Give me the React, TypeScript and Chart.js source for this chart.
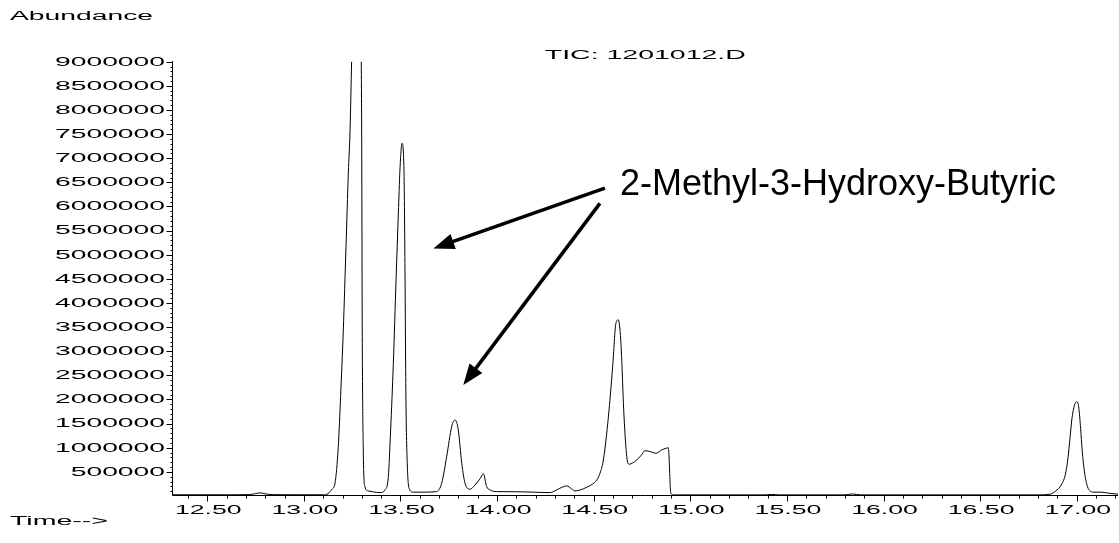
import React, { useEffect, useRef } from "react";
import { Chart, registerables } from "chart.js";

Chart.register(...registerables);

// ---- Data ----
const retentionTimes: number[] = [
  12.32, 12.6, 12.72, 12.75, 12.773, 12.8, 12.84, 13.0, 13.1, 13.125, 13.145, 13.161,
  13.178, 13.19, 13.204, 13.218, 13.23, 13.239, 13.247, 13.262, 13.275, 13.285, 13.295,
  13.299, 13.302, 13.307, 13.316, 13.333, 13.36, 13.394, 13.42, 13.437, 13.449, 13.463,
  13.477, 13.489, 13.497, 13.508, 13.518, 13.523, 13.528, 13.535, 13.546, 13.566, 13.62,
  13.687, 13.713, 13.739, 13.765, 13.782, 13.799, 13.817, 13.834, 13.86, 13.886, 13.912,
  13.929, 13.946, 13.963, 13.997, 14.1, 14.2, 14.274, 14.308, 14.335, 14.36, 14.385,
  14.403, 14.43, 14.464, 14.495, 14.516, 14.535, 14.55, 14.576, 14.598, 14.615, 14.627,
  14.64, 14.657, 14.671, 14.684, 14.7, 14.723, 14.745, 14.766, 14.792, 14.822, 14.852,
  14.875, 14.886, 14.889, 14.899, 14.912, 15.3, 15.38, 15.42, 15.46, 15.8, 15.84, 15.88,
  16.8, 16.862, 16.89, 16.92, 16.94, 16.955, 16.965, 16.975, 16.988, 17.0, 17.01, 17.02,
  17.028, 17.04, 17.055, 17.07, 17.085, 17.13, 17.165, 17.214,
];

const abundance: number[] = [
  25000, 25000, 30000, 50000, 65000, 45000, 27000, 25000, 25000, 50000, 140000, 264000,
  1020000, 2060000, 3440000, 5170000, 6690000, 7580000, 9000000, 11200000, 12000000, 11500000, 9800000,
  7600000, 3440000, 1020000, 195000, 106000, 85000, 70000, 126000, 402000, 1370000, 2750000,
  4480000, 5860000, 6750000, 7310000, 6750000, 4820000, 2060000, 679000, 141000, 79000, 80000,
  91000, 264000, 816000, 1440000, 1576000, 1370000, 679000, 264000, 141000, 230000, 360000,
  460000, 195000, 126000, 91000, 88000, 78000, 70000, 126000, 180000, 209000, 150000,
  105000, 125000, 182000, 250000, 333000, 500000, 748000, 1640000, 2680000, 3580000, 3650000,
  3230000, 1640000, 816000, 658000, 680000, 748000, 840000, 940000, 920000, 886000, 955000,
  990000, 1000000, 880000, 58000, 23000, 23000, 23000, 33000, 23000, 23000, 43000, 23000,
  23000, 37000, 100000, 230000, 430000, 800000, 1200000, 1600000, 1880000, 1955000, 1850000, 1400000,
  950000, 500000, 200000, 100000, 80000, 79000, 58000, 37000,
];

const xTickValues: number[] = [12.5, 13.0, 13.5, 14.0, 14.5, 15.0, 15.5, 16.0, 16.5, 17.0];
const xTickLabels: string[] = ["12.50", "13.00", "13.50", "14.00", "14.50", "15.00", "15.50", "16.00", "16.50", "17.00"];
const yTickValues: number[] = [
  500000, 1000000, 1500000, 2000000, 2500000, 3000000, 3500000, 4000000, 4500000,
  5000000, 5500000, 6000000, 6500000, 7000000, 7500000, 8000000, 8500000, 9000000,
];

const chartTitle = "TIC: 1201012.D";
const yAxisTitle = "Abundance";
const xAxisTitle = "Time-->";
const annotationText = "2-Methyl-3-Hydroxy-Butyric";
// arrows: [tailTime, tailAbundance, tipTime, tipAbundance]
const arrowUpper: number[] = [14.558, 6380000, 13.67, 5130000];
const arrowLower: number[] = [14.532, 6065000, 13.825, 2300000];
const annotationAnchor: number[] = [14.636, 6236000];

const X_MIN = 12.32;
const X_MAX = 17.214;
const Y_MIN = 0;
const Y_MAX = 9000000;

const SMALL_FONT = "12px 'Liberation Sans', Arial, sans-serif";
const BIG_FONT = "36px 'Liberation Sans', Arial, sans-serif";

function drawStretched(
  ctx: CanvasRenderingContext2D,
  text: string,
  x: number,
  y: number,
  targetWidthRef: number,
  refText: string,
  align: "left" | "right" | "center",
  baseline: CanvasTextBaseline
) {
  ctx.save();
  ctx.font = SMALL_FONT;
  const refW = ctx.measureText(refText).width || 1;
  const sx = targetWidthRef / refW;
  const w = ctx.measureText(text).width * sx;
  const x0 = align === "left" ? x : align === "right" ? x - w : x - w / 2;
  ctx.translate(x0, y);
  ctx.scale(sx, 1);
  ctx.textAlign = "left";
  ctx.textBaseline = baseline;
  ctx.fillStyle = "#000";
  ctx.fillText(text, 0, 0);
  ctx.restore();
}

function drawArrow(ctx: CanvasRenderingContext2D, x1: number, y1: number, x2: number, y2: number) {
  const dx = x2 - x1;
  const dy = y2 - y1;
  const len = Math.sqrt(dx * dx + dy * dy);
  const ux = dx / len;
  const uy = dy / len;
  const headLen = 21;
  const headHalf = 8;
  const bx = x2 - ux * headLen;
  const by = y2 - uy * headLen;
  ctx.save();
  ctx.strokeStyle = "#000";
  ctx.fillStyle = "#000";
  ctx.lineWidth = 3.5;
  ctx.lineCap = "butt";
  ctx.beginPath();
  ctx.moveTo(x1, y1);
  ctx.lineTo(bx + ux * 2, by + uy * 2);
  ctx.stroke();
  ctx.beginPath();
  ctx.moveTo(x2, y2);
  ctx.lineTo(bx - uy * headHalf, by + ux * headHalf);
  ctx.lineTo(bx + uy * headHalf, by - ux * headHalf);
  ctx.closePath();
  ctx.fill();
  ctx.restore();
}

const decorPlugin = {
  id: "decor",
  afterDraw(chart: any) {
    const ctx: CanvasRenderingContext2D = chart.ctx;
    const xs = chart.scales.x;
    const ys = chart.scales.y;
    const ca = chart.chartArea;
    const left = Math.floor(ca.left) + 0.5;
    const bottom = Math.round(ca.bottom) - 0.5;
    const top = ys.getPixelForValue(Y_MAX);

    ctx.save();
    ctx.strokeStyle = "#000";
    ctx.lineWidth = 1;
    // axis lines
    ctx.beginPath();
    ctx.moveTo(left, Math.floor(top));
    ctx.lineTo(left, bottom);
    ctx.lineTo(Math.round(ca.right), bottom);
    ctx.stroke();

    // y minor ticks every 100000
    ctx.beginPath();
    for (let k = 1; k <= 90; k++) {
      const v = k * 100000;
      const py = Math.round(ys.getPixelForValue(v)) + 0.5;
      const isMajor = k % 5 === 0;
      const len = isMajor ? 6 : 2;
      ctx.moveTo(left - len, py);
      ctx.lineTo(left, py);
    }
    // x minor ticks every 0.1
    for (let k = Math.ceil(X_MIN * 10); k <= Math.floor(X_MAX * 10); k++) {
      const v = k / 10;
      const px = Math.round(xs.getPixelForValue(v)) + 0.5;
      const isMajor = k % 5 === 0;
      const len = isMajor ? 6 : 3;
      ctx.moveTo(px, bottom);
      ctx.lineTo(px, bottom + len);
    }
    ctx.stroke();
    ctx.restore();

    // y tick labels
    yTickValues.forEach((v) => {
      const py = ys.getPixelForValue(v);
      drawStretched(ctx, String(v), left - 7.5, py + 0.5, 110, "9000000", "right", "middle");
    });
    // x tick labels
    xTickValues.forEach((v, i) => {
      const px = xs.getPixelForValue(v);
      drawStretched(ctx, xTickLabels[i], px + 1, bottom + 18.5, 66.7, "12.50", "center", "alphabetic");
    });

    // titles
    drawStretched(ctx, yAxisTitle, 10, 19.5, 143, yAxisTitle, "left", "alphabetic");
    drawStretched(ctx, xAxisTitle, 10, 525, 98, xAxisTitle, "left", "alphabetic");
    drawStretched(ctx, chartTitle, (ca.left + ca.right) / 2, 59, 201, chartTitle, "center", "alphabetic");

    // annotation text
    ctx.save();
    ctx.font = BIG_FONT;
    ctx.fillStyle = "#000";
    ctx.textAlign = "left";
    ctx.textBaseline = "alphabetic";
    ctx.fillText(
      annotationText,
      xs.getPixelForValue(annotationAnchor[0]),
      ys.getPixelForValue(annotationAnchor[1])
    );
    ctx.restore();

    // arrows
    [arrowUpper, arrowLower].forEach((a) => {
      drawArrow(
        ctx,
        xs.getPixelForValue(a[0]),
        ys.getPixelForValue(a[1]),
        xs.getPixelForValue(a[2]),
        ys.getPixelForValue(a[3])
      );
    });
  },
};

export default function App() {
  const canvasRef = useRef<HTMLCanvasElement | null>(null);

  useEffect(() => {
    const canvas = canvasRef.current;
    if (!canvas) return;
    const points = retentionTimes.map((t, i) => ({ x: t, y: abundance[i] }));
    const chart = new Chart(canvas, {
      type: "line",
      data: {
        datasets: [
          {
            label: chartTitle,
            data: points,
            borderColor: "#000",
            borderWidth: 1,
            pointRadius: 0,
            fill: false,
            cubicInterpolationMode: "monotone",
          } as any,
        ],
      },
      options: {
        animation: false,
        responsive: false,
        devicePixelRatio: 1,
        parsing: true as any,
        layout: { padding: { left: 172.5, right: 0.9, top: 61.7, bottom: 47 } },
        plugins: {
          legend: { display: false },
          tooltip: { enabled: false },
          title: { display: false },
        },
        scales: {
          x: { type: "linear", min: X_MIN, max: X_MAX, display: false },
          y: { type: "linear", min: Y_MIN, max: Y_MAX, display: false },
        },
      },
      plugins: [decorPlugin],
    });
    return () => chart.destroy();
  }, []);

  return (
    <div style={{ position: "absolute", left: 0, top: 0, width: 1119, height: 543, background: "#fff" }}>
      <canvas ref={canvasRef} width={1119} height={543} style={{ display: "block" }} />
    </div>
  );
}
